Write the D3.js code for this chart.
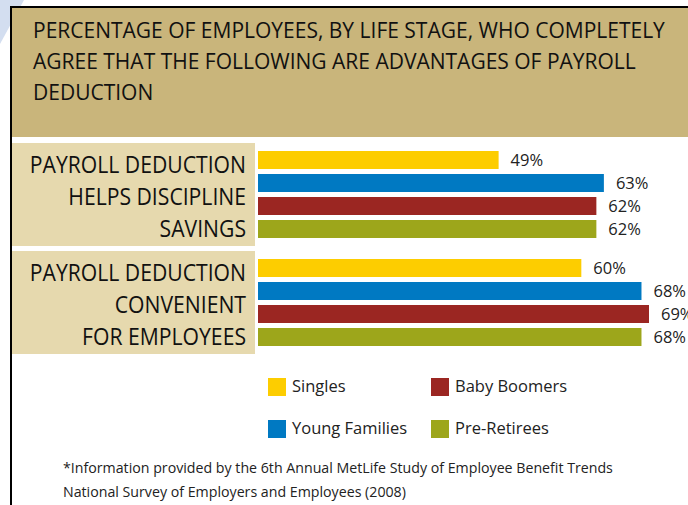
<!DOCTYPE html>
<html>
<head>
<meta charset="utf-8">
<script src="https://cdn.jsdelivr.net/npm/d3@7"></script>
<style>
  body { margin: 0; background: #fff; }
  svg { display: block; font-family: "Open Sans", sans-serif; }
</style>
</head>
<body>
<svg id="chart"></svg>
<script>
// data
const titleLines = [
    'PERCENTAGE OF EMPLOYEES, BY LIFE STAGE, WHO COMPLETELY',
    'AGREE THAT THE FOLLOWING ARE ADVANTAGES OF PAYROLL',
    'DEDUCTION'
];
const categories = [
    ['PAYROLL DEDUCTION', 'HELPS DISCIPLINE', 'SAVINGS'],
    ['PAYROLL DEDUCTION', 'CONVENIENT', 'FOR EMPLOYEES']
];
const seriesNames = ['Singles', 'Young Families', 'Baby Boomers', 'Pre-Retirees'];
const helpsDiscipline = [49, 63, 62, 62];
const convenient = [60, 68, 69, 68];
const seriesColors = ['#fdcd00', '#0079c2', '#9b2622', '#9da61b'];
const footnote = [
    '*Information provided by the 6th Annual MetLife Study of Employee Benefit Trends',
    'National Survey of Employers and Employees (2008)'
];

const width = 688, height = 505;

const svg = d3.select('#chart')
    .attr('width', width)
    .attr('height', height);

// narrow the glyphs a bit, the original face is condensed
function squeeze(sel, k) {
    sel.each(function() {
        const len = this.getComputedTextLength();
        d3.select(this)
            .attr('textLength', len * k)
            .attr('lengthAdjust', 'spacingAndGlyphs');
    });
}

// light blue corner behind the frame
svg.append('path')
    .attr('d', 'M0,0 L24,0 L0,44 Z')
    .attr('fill', '#d3def0');

// header
svg.append('rect')
    .attr('x', 12).attr('y', 8)
    .attr('width', width - 12).attr('height', 129)
    .attr('fill', '#c9b57b');

svg.append('g')
    .selectAll('text')
    .data(titleLines)
    .join('text')
    .attr('x', 33)
    .attr('y', (d, i) => 38 + i * 31)
    .style('font-size', '21px')
    .attr('fill', '#111')
    .text(d => d);

// frame lines
svg.append('rect').attr('x', 10).attr('y', 6).attr('width', width - 10).attr('height', 2).attr('fill', '#000');
svg.append('rect').attr('x', 10).attr('y', 6).attr('width', 2).attr('height', height - 6).attr('fill', '#000');

// scales
const groups = [helpsDiscipline, convenient];

const xscale = d3.scaleLinear()
    .domain([17, 69])
    .range([258, 649]);

const youter = d3.scaleBand()
    .domain(d3.range(groups.length))
    .range([151, 151 + 108 * groups.length]);

const yinner = d3.scaleBand()
    .domain(seriesNames)
    .range([0, 87])
    .paddingInner(5 / 23)
    .paddingOuter(0);

// category panels
const panel = svg.append('g')
    .selectAll('g')
    .data(categories)
    .join('g')
    .attr('transform', (d, i) => `translate(0, ${youter(i)})`);

panel.append('rect')
    .attr('x', 12).attr('y', -8)
    .attr('width', 243).attr('height', 103)
    .attr('fill', '#e6d9ae');

panel.selectAll('text')
    .data(d => d)
    .join('text')
    .attr('x', 246)
    .attr('y', (d, i) => 22 + i * 32)
    .attr('text-anchor', 'end')
    .style('font-size', '23px')
    .attr('fill', '#111')
    .text(d => d)
    .call(squeeze, 0.92);

// bars
const barGroup = svg.append('g')
    .selectAll('g')
    .data(groups)
    .join('g')
    .attr('transform', (d, i) => `translate(0, ${youter(i)})`);

barGroup.selectAll('rect')
    .data(d => d.map((v, j) => ({name: seriesNames[j], value: v, color: seriesColors[j]})))
    .join('rect')
    .attr('x', xscale(17))
    .attr('y', d => yinner(d.name))
    .attr('width', d => xscale(d.value) - xscale(17))
    .attr('height', yinner.bandwidth())
    .attr('fill', d => d.color);

barGroup.selectAll('text')
    .data(d => d.map((v, j) => ({name: seriesNames[j], value: v})))
    .join('text')
    .attr('x', d => xscale(d.value) + 12)
    .attr('y', d => yinner(d.name) + yinner.bandwidth() / 2)
    .attr('dy', '0.35em')
    .style('font-size', '16.5px')
    .attr('fill', '#222')
    .text(d => d.value + '%');

// legend: Singles, Baby Boomers on the first row; Young Families, Pre-Retirees below
const legend = svg.append('g')
    .selectAll('g')
    .data(seriesNames)
    .join('g')
    .attr('transform', (d, i) => {
        const col = i < 2 ? 0 : 1;
        const row = i % 2;
        return `translate(${col === 0 ? 268 : 431}, ${378 + row * 42})`;
    });

legend.append('rect')
    .attr('width', 18).attr('height', 18)
    .attr('fill', (d, i) => seriesColors[i]);

legend.append('text')
    .attr('x', 24)
    .attr('y', 14)
    .style('font-size', '17px')
    .attr('fill', '#222')
    .text(d => d)
    .call(squeeze, 0.97);

// footnote
svg.append('g')
    .selectAll('text')
    .data(footnote)
    .join('text')
    .attr('x', 63)
    .attr('y', (d, i) => 473 + i * 24)
    .style('font-size', '14.2px')
    .attr('fill', '#222')
    .text(d => d);
</script>
</body>
</html>
